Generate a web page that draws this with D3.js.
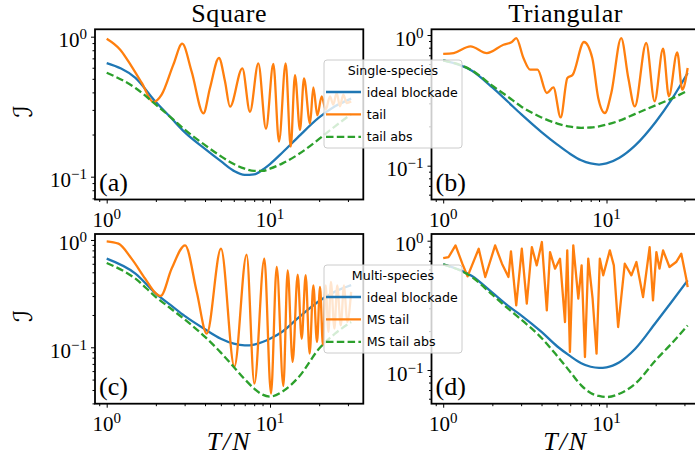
<!DOCTYPE html>
<html lang="en">
<head>
<meta charset="utf-8">
<title>blockade tails</title>
<script src="https://cdn.jsdelivr.net/npm/d3@7"></script>
<style>
  body { margin: 0; background: #fff; }
  svg { display: block; }
  .tickLabel { font-family: "Liberation Serif", "DejaVu Serif", serif; font-size: 21px; fill: #000; }
  .colTitle { font-family: "Liberation Serif", serif; font-size: 26px; text-anchor: middle; letter-spacing: 0.6px; }
  .panelTag { font-family: "Liberation Serif", serif; font-size: 26px; }
  .xLabel { font-family: "Liberation Serif", serif; font-style: italic; font-size: 26px; text-anchor: middle; letter-spacing: 2px; }
  .yLabel { font-family: "DejaVu Serif", "DejaVu Sans", serif; font-size: 26px; text-anchor: middle; }
  .legend text { font-family: "DejaVu Sans", sans-serif; font-size: 12.6px; fill: #000; }
</style>
</head>
<body>
<script>
const width = 695, height = 473;

// T/N grid for the smooth curves
const tGrid = [1, 1.5, 2, 2.5, 3, 4, 5, 6, 7, 8, 9, 10, 12, 15, 20, 25, 31.4];

// (a) square, single species
const idealSqSingle   = [0.648, 0.507, 0.341, 0.260, 0.208, 0.158, 0.129, 0.110, 0.103, 0.104, 0.112, 0.123, 0.150, 0.194, 0.265, 0.318, 0.361];
const tailAbsSqSingle = [0.553, 0.430, 0.327, 0.262, 0.217, 0.168, 0.140, 0.123, 0.114, 0.110, 0.110, 0.114, 0.125, 0.145, 0.186, 0.229, 0.280];
const tailSqSingle = [[1.00,0.968],[1.21,0.808],[1.42,0.614],[1.64,0.467],[1.93,0.341],[2.17,0.385],[2.56,0.631],[2.90,0.891],
  [3.31,0.565],[3.91,0.283],[4.29,0.430],[4.87,0.704],[5.30,0.480],[5.69,0.316],[6.77,0.594],[7.54,0.291],[8.48,0.645],
  [9.45,0.220],[10.48,0.638],[11.35,0.178],[12.47,0.645],[13.39,0.164],[14.22,0.532],[15.26,0.216],[16.15,0.504],
  [17.58,0.240],[18.42,0.435],[19.49,0.274],[20.72,0.375],[21.93,0.301],[23.3,0.375],[24.4,0.327],[25.6,0.396],
  [26.8,0.318],[28.1,0.385],[29.5,0.336],[31.4,0.345]];

// (b) triangular, single species
const idealTriSingle   = [0.640, 0.533, 0.397, 0.307, 0.248, 0.181, 0.145, 0.123, 0.110, 0.104, 0.102, 0.104, 0.115, 0.143, 0.216, 0.320, 0.512];
const tailAbsTriSingle = [0.640, 0.536, 0.409, 0.336, 0.284, 0.234, 0.210, 0.199, 0.195, 0.196, 0.200, 0.206, 0.221, 0.249, 0.290, 0.326, 0.375];
const tailTriSingle = [[1.00,0.716],[1.16,0.728],[1.47,0.819],[1.85,0.728],[2.34,0.843],[2.63,0.884],[2.80,0.948],[3.10,0.667],
  [3.41,0.543],[3.78,0.543],[4.31,0.360],[4.73,0.397],[5.24,0.234],[5.76,0.469],[6.21,0.497],[7.28,0.884],[8.18,0.667],
  [8.90,0.330],[9.77,0.253],[10.7,0.360],[12.3,0.948],[13.6,0.469],[14.9,0.284],[17.5,0.869],[19.7,0.311],[22.2,0.786],
  [24.1,0.340],[27.1,0.737],[29.1,0.382],[31.4,0.559]];

// (c) square, multi species
const idealSqMulti   = [0.670, 0.486, 0.316, 0.243, 0.196, 0.147, 0.120, 0.108, 0.104, 0.106, 0.112, 0.120, 0.141, 0.190, 0.270, 0.330, 0.380];
const tailAbsSqMulti = [0.611, 0.436, 0.294, 0.226, 0.182, 0.125, 0.0891, 0.0656, 0.0504, 0.0412, 0.0362, 0.0347, 0.0389, 0.0529, 0.0972, 0.134, 0.172];
const tailSqMulti = [[1.00,0.971],[1.18,0.924],[1.42,0.670],[1.72,0.436],[1.98,0.323],[2.14,0.301],[2.50,0.541],[3.02,0.892],
  [3.56,0.328],[4.10,0.134],[5.01,0.830],[6.05,0.066],[7.19,0.730],[8.02,0.0459],[9.23,0.670],[10.14,0.0370],[10.99,0.560],
  [12.07,0.0436],[12.83,0.522],[13.76,0.0730],[14.77,0.475],[15.63,0.120],[16.53,0.469],[17.49,0.0873],[18.42,0.378],
  [19.40,0.112],[20.24,0.365],[21.1,0.104],[21.9,0.378],[22.8,0.139],[23.6,0.406],[24.8,0.149],[25.8,0.378],[27.1,0.160],
  [28.4,0.378],[29.7,0.172],[31.4,0.328]];

// (d) triangular, multi species
const idealTriMulti   = [0.656, 0.533, 0.396, 0.313, 0.265, 0.197, 0.152, 0.128, 0.113, 0.106, 0.104, 0.105, 0.115, 0.146, 0.232, 0.336, 0.494];
const tailAbsTriMulti = [0.656, 0.524, 0.382, 0.298, 0.246, 0.177, 0.128, 0.0966, 0.0760, 0.0664, 0.0630, 0.0618, 0.0656, 0.0784, 0.119, 0.160, 0.221];
const tailTriMulti = [[1.00,0.734],[1.08,0.748],[1.19,0.920],[1.31,0.664],[1.41,0.530],[1.65,0.867],[1.81,0.524],[2.08,0.920],
  [2.29,0.664],[2.51,0.524],[2.60,0.828],[2.80,0.316],[3.03,0.867],[3.25,0.326],[3.49,0.893],[3.74,0.645],[4.02,0.977],
  [4.31,0.289],[4.51,0.817],[4.84,0.608],[5.19,0.726],[5.57,0.235],[5.75,0.842],[5.97,0.138],[6.26,0.920],[6.72,0.356],
  [7.04,0.645],[7.38,0.126],[7.73,0.726],[8.22,0.356],[8.69,0.134],[9.10,0.726],[9.55,0.540],[10.48,0.842],[11.09,0.645],
  [11.78,0.215],[12.94,0.664],[14.20,0.540],[15.24,0.684],[16.74,0.367],[18.37,0.893],[19.26,0.346],[20.2,0.817],
  [21.1,0.608],[22.2,0.842],[24.3,0.626],[26.7,0.684],[28.7,0.794],[30.8,0.508],[31.4,0.438]];

const colTitles = ["Square", "Triangular"];
const legendTitles = ["Single-species", "Multi-species"];
const legendSingle = ["ideal blockade", "tail", "tail abs"];
const legendMulti = ["ideal blockade", "MS tail", "MS tail abs"];
const xMajorTicks = [1, 10];
const yMajorTicks = [0.1, 1];

// layout
const colors = { ideal: "#1f77b4", tail: "#ff7f0e", abs: "#2ca02c" };
const pw = 268.3;
const xDomain = [0.848, 37.26];
const panels = [
  { tag: "a", x: 95,    y: 29.3, h: 170.2, yDomain: [0.0687, 1.129], ideal: idealSqSingle,  tail: tailSqSingle,  abs: tailAbsSqSingle,  jagged: false },
  { tag: "b", x: 431.5, y: 29.3, h: 170.2, yDomain: [0.0551, 1.106], ideal: idealTriSingle, tail: tailTriSingle, abs: tailAbsTriSingle, jagged: false },
  { tag: "c", x: 95,    y: 234,  h: 169.7, yDomain: [0.0298, 1.137], ideal: idealSqMulti,   tail: tailSqMulti,   abs: tailAbsSqMulti,   jagged: false },
  { tag: "d", x: 431.5, y: 234,  h: 169.7, yDomain: [0.0549, 1.127], ideal: idealTriMulti,  tail: tailTriMulti,  abs: tailAbsTriMulti,  jagged: true }
];

const svg = d3.select("body").append("svg").attr("width", width).attr("height", height);

function expText(v) {
  const e = Math.round(Math.log10(v));
  return e < 0 ? "\u2212" + (-e) : String(e);
}

function addPow(sel, v) {
  sel.append("tspan").text("10");
  sel.append("tspan").attr("font-size", "15px").attr("dy", -8).text(expText(v));
}

function drawPanel(p, i) {
  const g = svg.append("g").attr("transform", `translate(${p.x},${p.y})`);
  const x = d3.scaleLog().domain(xDomain).range([0, pw]);
  const y = d3.scaleLog().domain(p.yDomain).range([p.h, 0]);

  g.append("clipPath").attr("id", "clip-" + p.tag)
    .append("rect").attr("width", pw).attr("height", p.h);
  const plot = g.append("g").attr("clip-path", `url(#clip-${p.tag})`);

  const smooth = d3.line().x(d => x(d[0])).y(d => y(d[1])).curve(d3.curveMonotoneX);
  const straight = d3.line().x(d => x(d[0])).y(d => y(d[1]));

  plot.append("path").datum(d3.zip(tGrid, p.ideal)).attr("d", smooth)
    .attr("fill", "none").attr("stroke", colors.ideal).attr("stroke-width", 2.3);
  plot.append("path").datum(p.tail).attr("d", p.jagged ? straight : smooth)
    .attr("fill", "none").attr("stroke", colors.tail).attr("stroke-width", 2.3)
    .attr("stroke-linejoin", "round");
  plot.append("path").datum(d3.zip(tGrid, p.abs)).attr("d", smooth)
    .attr("fill", "none").attr("stroke", colors.abs).attr("stroke-width", 2.3)
    .attr("stroke-dasharray", "7.5,3.3");

  // ticks (outward), major and minor
  const xMinor = x.ticks().filter(v => xMajorTicks.indexOf(v) < 0);
  const yMinor = y.ticks().filter(v => yMajorTicks.indexOf(v) < 0);
  g.append("g").attr("transform", `translate(0,${p.h})`)
    .call(d3.axisBottom(x).tickValues(xMajorTicks).tickSize(4).tickFormat(""));
  g.append("g").attr("transform", `translate(0,${p.h})`)
    .call(d3.axisBottom(x).tickValues(xMinor).tickSize(2.5).tickFormat(""));
  g.append("g").call(d3.axisLeft(y).tickValues(yMajorTicks).tickSize(4).tickFormat(""));
  g.append("g").call(d3.axisLeft(y).tickValues(yMinor).tickSize(2.5).tickFormat(""));
  g.selectAll(".domain").remove();
  g.selectAll(".tick line").attr("stroke", "#000").attr("stroke-width", 1);

  // tick labels with superscripts
  xMajorTicks.forEach(v => {
    const t = g.append("text").attr("class", "tickLabel")
      .attr("x", x(v)).attr("y", p.h + 27.3).attr("text-anchor", "middle");
    addPow(t, v);
  });
  yMajorTicks.forEach(v => {
    const t = g.append("text").attr("class", "tickLabel")
      .attr("x", -8).attr("y", y(v) + 10.5).attr("text-anchor", "end");
    addPow(t, v);
  });

  // frame
  g.append("rect").attr("width", pw).attr("height", p.h)
    .attr("fill", "none").attr("stroke", "#000").attr("stroke-width", 1.8);

  g.append("text").attr("class", "panelTag").attr("x", 4).attr("y", p.h - 8.5).text(`(${p.tag})`);

  if (i < 2) {
    g.append("text").attr("class", "colTitle").attr("x", pw / 2).attr("y", 22 - p.y).text(colTitles[i]);
  } else {
    g.append("text").attr("class", "xLabel").attr("x", pw / 2).attr("y", 450 - p.y).text("T/N");
  }
  if (i % 2 === 0) {
    g.append("text").attr("class", "yLabel")
      .attr("transform", `translate(${22.5 - p.x},${p.h / 2 - 3}) rotate(-90)`)
      .attr("dy", "0.35em").text("\u2110");
  }
}

function drawLegend(lx, ly, title, labels) {
  const g = svg.append("g").attr("class", "legend").attr("transform", `translate(${lx},${ly})`);
  g.append("rect").attr("width", 138).attr("height", 88).attr("rx", 3)
    .attr("fill", "#fff").attr("fill-opacity", 0.8)
    .attr("stroke", "#cccccc").attr("stroke-width", 1);
  g.append("text").attr("x", 69).attr("y", 14.5).attr("text-anchor", "middle").text(title);
  const keys = ["ideal", "tail", "abs"];
  labels.forEach((lab, k) => {
    const yy = 32 + k * 22.4;
    g.append("line").attr("x1", 2).attr("x2", 37).attr("y1", yy).attr("y2", yy)
      .attr("stroke", colors[keys[k]]).attr("stroke-width", 2.3)
      .attr("stroke-dasharray", keys[k] === "abs" ? "7.5,3.3" : null);
    g.append("text").attr("x", 42.7).attr("y", yy + 4.5).text(lab);
  });
}

panels.forEach(drawPanel);
drawLegend(324, 60, legendTitles[0], legendSingle);
drawLegend(324, 265, legendTitles[1], legendMulti);
</script>
</body>
</html>
